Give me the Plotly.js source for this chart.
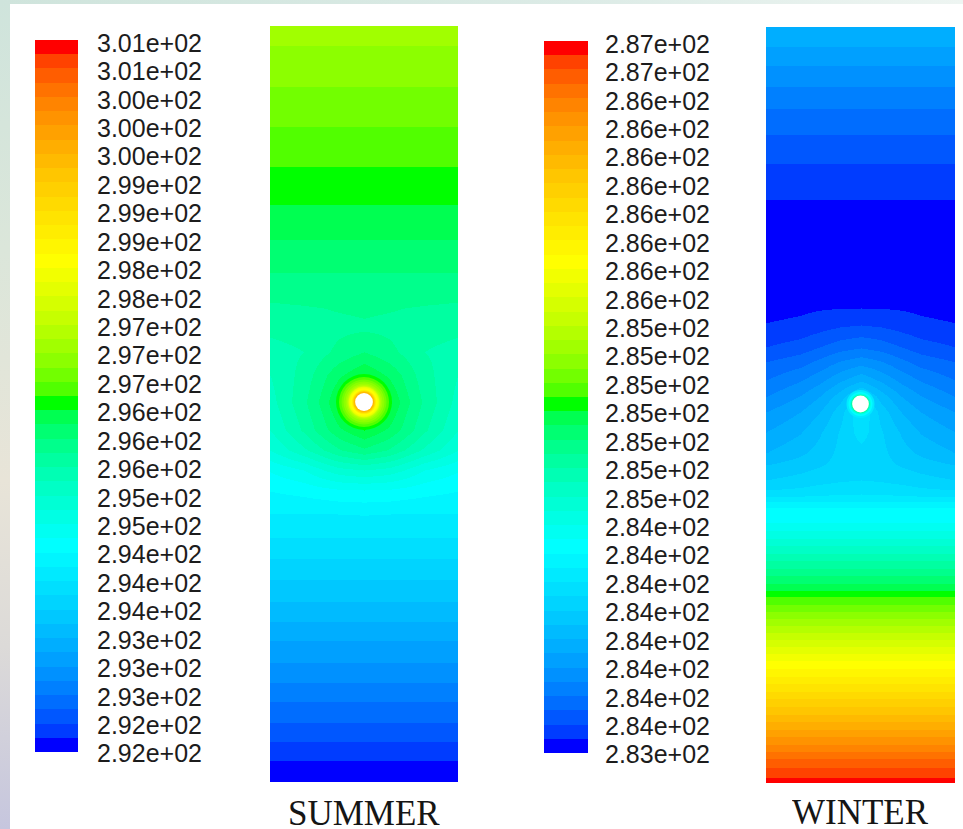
<!DOCTYPE html>
<html>
<head>
<meta charset="utf-8">
<script src="https://cdn.plot.ly/plotly-3.0.1.min.js"></script>
<style>
html,body{margin:0;padding:0;width:963px;height:829px;overflow:hidden;background:#fff}
#strip{position:absolute;left:0;top:0;width:963px;height:829px;background:linear-gradient(180deg,#cfe4dc 0%,#dbe6da 30%,#e8e4d8 58%,#dcdad8 78%,#c6c6de 100%)}
#top{position:absolute;left:0;top:0;width:963px;height:4px;background:linear-gradient(90deg,#cfe4dc 0%,#dcebe6 60%,#eef5f2 100%)}
#sheet{position:absolute;left:10px;top:4px;width:953px;height:825px;background:#fff}
#chart{position:absolute;left:0;top:0;width:963px;height:829px}
</style>
</head>
<body>
<div id="strip"></div><div id="top"></div><div id="sheet"></div>
<div id="chart"></div>
<script>
// Colour-band level (0 = blue ... 49 = red) of the two temperature fields.
const levels = [0,1,2,3,4,5,6,7,8,9,10,11,12,13,14,15,16,17,18,19,20,21,22,23,24,25,26,27,28,29,30,31,32,33,34,35,36,37,38,39,40,41,42,43,44,45,46,47,48,49];

const summerLabels = ["3.01e+02","3.01e+02","3.00e+02","3.00e+02","3.00e+02","2.99e+02","2.99e+02","2.99e+02","2.98e+02","2.98e+02","2.97e+02","2.97e+02","2.97e+02","2.96e+02","2.96e+02","2.96e+02","2.95e+02","2.95e+02","2.94e+02","2.94e+02","2.94e+02","2.93e+02","2.93e+02","2.93e+02","2.92e+02","2.92e+02"];
const winterLabels = ["2.87e+02","2.87e+02","2.86e+02","2.86e+02","2.86e+02","2.86e+02","2.86e+02","2.86e+02","2.86e+02","2.86e+02","2.85e+02","2.85e+02","2.85e+02","2.85e+02","2.85e+02","2.85e+02","2.85e+02","2.84e+02","2.84e+02","2.84e+02","2.84e+02","2.84e+02","2.84e+02","2.84e+02","2.84e+02","2.83e+02"];
const labelLevelTop = 49.29, labelLevelBottom = -0.62;

const summerWidth = [0,34,54,69,94,119,134,154,188];
const summerDepth = [0,20,60,100,140,178,213,246,276,294,304,326,349,376,404,424,444,464,487,511,532,553,575,595,615,636,656,675,696,715,734,756];
const summerField = [
 [28.5,28.5,28.5,28.5,28.5,28.5,28.5,28.5,28.5],
 [28,28,28,28,28,28,28,28,28],
 [27,27,27,27,27,27,27,27,27],
 [26,26,26,26,26,26,26,26,26],
 [25,25,25,25,25,25,25,25,25],
 [24,24,24,24,24,24,24,24,24],
 [23,23,23,23,23,23,23,23,23],
 [22,22,22,22,22,22,22,22,22],
 [21,21.1,21.2,21.35,21.5,21.35,21.2,21.1,21],
 [20.5,20.55,20.6,20.75,20.95,20.75,20.6,20.55,20.5],
 [20.2,20.4,20.6,20.8,20.95,20.8,20.6,20.4,20.2],
 [19.6,20,20.8,21.3,22,21.3,20.8,20,19.6],
 [19,20.4,21.8,22.8,24,22.8,21.8,20.4,19],
 [18.6,20.8,22.5,24.3,26,24.3,22.5,20.8,18.6],
 [18,20.2,21.7,22.8,24,22.8,21.7,20.2,18],
 [17,18.8,20,20.9,21.8,20.9,20,18.8,17],
 [15.1,16,17,17.6,18,17.6,17,16,15.1],
 [14.05,14.4,14.7,14.9,15,14.9,14.7,14.4,14.05],
 [13,13,13,13.05,13.1,13.05,13,13,13],
 [12,12,12,12,12,12,12,12,12],
 [11,11,11,11,11,11,11,11,11],
 [10,10,10,10,10,10,10,10,10],
 [9,9,9,9,9,9,9,9,9],
 [8,8,8,8,8,8,8,8,8],
 [7,7,7,7,7,7,7,7,7],
 [6,6,6,6,6,6,6,6,6],
 [5,5,5,5,5,5,5,5,5],
 [4,4,4,4,4,4,4,4,4],
 [3,3,3,3,3,3,3,3,3],
 [2,2,2,2,2,2,2,2,2],
 [1,1,1,1,1,1,1,1,1],
 [0.5,0.5,0.5,0.5,0.5,0.5,0.5,0.5,0.5]
];
const summerPipeX = [94], summerPipeDepth = [376];
const summerRingRadius = [28,25,22.5,20.5,18.5,17,16,15.3,14.5,13.5,12.3,11.5,10.8,10.2,8.9];
const summerRingLevel  = [24,25,26,27,28,29,30,32,33,34,35,37,39,41,-1];

const winterWidth = [0,34,54,74,94,114,134,154,188];
const winterDepth = [0,20,38,59,81,107,136,172,223,263,281,298,320,335,353,369,385,405,426,438,453,463,470,480,496,564,570,634,725,732,741,751,756];
const winterField = [
 [7.9,7.9,7.9,7.9,7.9,7.9,7.9,7.9,7.9],
 [7,7,7,7,7,7,7,7,7],
 [6,6,6,6,6,6,6,6,6],
 [5,5,5,5,5,5,5,5,5],
 [4,4,4,4,4,4,4,4,4],
 [3,3,3,3,3,3,3,3,3],
 [2,2,2,2,2,2,2,2,2],
 [1,1,1,1,1,1,1,1,1],
 [0.5,0.5,0.5,0.5,0.5,0.5,0.5,0.5,0.5],
 [0.6,0.6,0.6,0.65,0.7,0.65,0.6,0.6,0.6],
 [0.65,0.8,0.92,0.98,1,0.98,0.92,0.8,0.65],
 [1.05,1.25,1.55,1.85,2,1.85,1.55,1.25,1.05],
 [2,2.45,3,3.55,3.9,3.55,3,2.45,2],
 [3,3.6,4.3,5.1,5.6,5.1,4.3,3.6,3],
 [4,4.9,5.7,6.8,7.8,6.8,5.7,4.9,4],
 [4.95,6,7,8.5,10.5,8.5,7,6,4.95],
 [6,7,8,9.6,12,9.6,8,7,6],
 [7,7.9,8.9,10.1,11.5,10.1,8.9,7.9,7],
 [8,8.8,9.4,10.3,10.6,10.3,9.4,8.8,8],
 [9,9.5,9.9,10.4,10.6,10.4,9.9,9.5,9],
 [10,10.4,10.7,10.9,11,10.9,10.7,10.4,10],
 [11,11.2,11.4,11.5,11.6,11.5,11.4,11.2,11],
 [12,12.1,12.2,12.25,12.3,12.25,12.2,12.1,12],
 [14,14,14,14,14,14,14,14,14],
 [15,15,15,15,15,15,15,15,15],
 [24,24,24,24,24,24,24,24,24],
 [25,25,25,25,25,25,25,25,25],
 [34,34,34,34,34,34,34,34,34],
 [46,46,46,46,46,46,46,46,46],
 [47,47,47,47,47,47,47,47,47],
 [48,48,48,48,48,48,48,48,48],
 [49,49,49,49,49,49,49,49,49],
 [49.8,49.8,49.8,49.8,49.8,49.8,49.8,49.8,49.8]
];
const winterPipeX = [94], winterPipeDepth = [377];
const winterRingRadius = [14,12,10.5,9.6,9,8.4];
const winterRingLevel  = [12,14,16,18,21,-1];

// Band colours of the solver's rainbow legend.
function bandColor(l){
  if(l < 0) return '#ffffff';
  let r=0,g=0,b=0;
  if(l<=14){ b=255; g=255*Math.pow(l/14,0.55); }
  else if(l<=24){ g=255; b=255*Math.sqrt((24-l)/10); }
  else if(l<=34){ g=255; r=255*Math.sqrt((l-24)/10); }
  else { r=255; g=255*Math.sqrt((49-l)/15); }
  return 'rgb('+Math.round(r)+','+Math.round(g)+','+Math.round(b)+')';
}
const stepScale = [];
levels.forEach(l=>{ const c=bandColor(l); stepScale.push([l/50,c]); stepScale.push([(l+1)/50,c]); });

function legendTrace(xa,ya){
  return {type:'heatmap',x:[0],y:levels,z:levels.map(l=>[l+0.5]),xaxis:xa,yaxis:ya,
    colorscale:stepScale,zmin:0,zmax:50,showscale:false,hoverinfo:'skip'};
}
function fieldTrace(x,y,z,xa,ya){
  return {type:'heatmap',x:x,y:y,z:z,xaxis:xa,yaxis:ya,zsmooth:'best',
    colorscale:stepScale,zmin:0,zmax:50,showscale:false,hoverinfo:'skip'};
}
function ringTrace(px,py,radii,lvls,xa,ya){
  return {type:'scatter',mode:'markers',xaxis:xa,yaxis:ya,hoverinfo:'skip',showlegend:false,
    x:radii.map(()=>px[0]),y:radii.map(()=>py[0]),
    marker:{size:radii.map(r=>2*r),color:lvls.map(bandColor),line:{width:0},opacity:1}};
}

const W=963,H=829;
const domX=(a,b)=>[a/W,b/W];
const domY=(top,bottom)=>[1-bottom/H,1-top/H];
const hidden={visible:false,fixedrange:true};
const labelFont={family:'"Liberation Sans",Arial,sans-serif',size:25,color:'#1c1c1c'};
const labelLevels=n=>Array.from({length:n},(_,i)=>labelLevelTop+(labelLevelBottom-labelLevelTop)*i/(n-1));
function legendAxis(dom,anchor,labels,gap){
  return {domain:dom,anchor:anchor,side:'right',range:[-1,50],showgrid:false,zeroline:false,showline:false,
    tickmode:'array',tickvals:labelLevels(labels.length),ticktext:labels,ticks:'outside',ticklen:gap,tickwidth:0,
    tickcolor:'rgba(0,0,0,0)',tickfont:labelFont,fixedrange:true};
}
const h=14.24;
const titleFont={family:'"Liberation Serif","Times New Roman",serif',size:35,color:'#151515'};
const layout={
  width:W,height:H,margin:{l:0,r:0,t:0,b:0,pad:0},
  paper_bgcolor:'rgba(0,0,0,0)',plot_bgcolor:'rgba(0,0,0,0)',showlegend:false,
  xaxis: {...hidden,domain:domX(35,78),range:[-0.5,0.5],anchor:'y'},
  yaxis: legendAxis(domY(40-h/2,752+h/2),'x',summerLabels,13),
  xaxis2:{...hidden,domain:domX(270,458),range:[0,188],anchor:'y2'},
  yaxis2:{...hidden,domain:domY(26,782),range:[756,0],anchor:'x2'},
  xaxis3:{...hidden,domain:domX(544,588),range:[-0.5,0.5],anchor:'y3'},
  yaxis3:legendAxis(domY(41-h/2,753+h/2),'x3',winterLabels,11),
  xaxis4:{...hidden,domain:domX(766,955),range:[0,188],anchor:'y4'},
  yaxis4:{...hidden,domain:domY(27,783),range:[756,0],anchor:'x4'},
  annotations:[
    {text:'SUMMER',xref:'x2',x:94,yref:'paper',y:1-813/H,xanchor:'center',yanchor:'middle',height:28,showarrow:false,font:titleFont},
    {text:'WINTER',xref:'x4',x:94,yref:'paper',y:1-812/H,xanchor:'center',yanchor:'middle',height:28,showarrow:false,font:titleFont}
  ]
};
const data=[
  legendTrace('x','y'),
  fieldTrace(summerWidth,summerDepth,summerField,'x2','y2'),
  ringTrace(summerPipeX,summerPipeDepth,summerRingRadius,summerRingLevel,'x2','y2'),
  legendTrace('x3','y3'),
  fieldTrace(winterWidth,winterDepth,winterField,'x4','y4'),
  ringTrace(winterPipeX,winterPipeDepth,winterRingRadius,winterRingLevel,'x4','y4')
];
Plotly.newPlot('chart',data,layout,{displayModeBar:false,staticPlot:true});
</script>
</body>
</html>
